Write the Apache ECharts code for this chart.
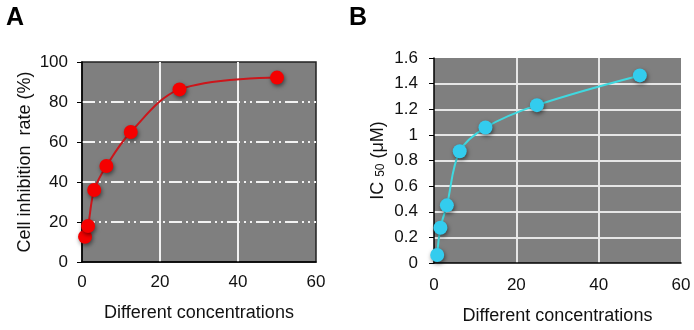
<!DOCTYPE html>
<html>
<head>
<meta charset="utf-8">
<script src="https://cdn.jsdelivr.net/npm/echarts@6/dist/echarts.min.js"></script>
<style>
  html, body { margin: 0; padding: 0; background: #fff; }
  #chart { width: 694px; height: 330px; }
</style>
</head>
<body>
<div id="chart"></div>
<script>
// concentrations shared by both panels
const concentrations = [0.78, 1.56, 3.125, 6.25, 12.5, 25, 50]
// panel A: inhibition rate (%)
const inhibitionRate = [12.6, 18, 36, 48, 65, 86.3, 92.2]
// panel B: IC50 (uM)
const ic50 = [0.062, 0.275, 0.45, 0.872, 1.057, 1.232, 1.464]

const font = 'Liberation Sans, Arial, sans-serif'

const pairs = (xs, ys) => xs.map((x, i) => [x, ys[i]])

const chart = echarts.init(document.getElementById('chart'))

const axisText = { color: '#111', fontSize: 17, fontFamily: font }
const titleText = { color: '#111', fontSize: 18, fontFamily: font }

chart.setOption({
  animation: false,
  textStyle: { fontFamily: font },
  graphic: [
    { type: 'text', left: 6, top: 6, style: { text: 'A', font: 'bold 25px ' + font, fill: '#000' } },
    { type: 'text', left: 349, top: 6, style: { text: 'B', font: 'bold 25px ' + font, fill: '#000' } }
  ],
  grid: [
    { left: 82, right: 378, top: 62, bottom: 68, show: true, backgroundColor: '#7f7f7f', borderColor: '#222', borderWidth: 1.5 },
    { left: 434, right: 13, top: 58, bottom: 64, show: true, backgroundColor: '#7f7f7f', borderColor: '#7f7f7f', borderWidth: 0 }
  ],
  xAxis: [
    {
      gridIndex: 0, type: 'value', min: 0, max: 60, interval: 20,
      name: 'Different concentrations', nameLocation: 'middle', nameGap: 42,
      nameTextStyle: titleText,
      axisLine: { show: true, lineStyle: { color: '#000', width: 1.5 } },
      axisTick: { show: false },
      axisLabel: { ...axisText, margin: 12 },
      splitLine: { show: true, showMinLine: false, showMaxLine: false, lineStyle: { color: '#f2f2f2', width: 2 } }
    },
    {
      gridIndex: 1, type: 'value', min: 0, max: 60, interval: 20,
      name: 'Different concentrations', nameLocation: 'middle', nameGap: 44,
      nameTextStyle: titleText,
      axisLine: { show: true, lineStyle: { color: '#000', width: 1.5 } },
      axisTick: { show: false },
      axisLabel: { ...axisText, margin: 14 },
      splitLine: { show: true, showMinLine: false, showMaxLine: false, lineStyle: { color: '#e6e6e6', width: 2 } }
    }
  ],
  yAxis: [
    {
      gridIndex: 0, type: 'value', min: 0, max: 100, interval: 20,
      name: 'Cell inhibition  rate (%)', nameLocation: 'middle', nameGap: 48,
      nameTextStyle: titleText,
      axisLine: { show: true, lineStyle: { color: '#000', width: 1.5 } },
      axisTick: { show: true, inside: false, length: 5, lineStyle: { color: '#000' } },
      axisLabel: { ...axisText, margin: 14 },
      splitLine: { show: true, showMinLine: false, showMaxLine: false, lineStyle: { color: '#f2f2f2', width: 2, type: [13, 4, 2, 4, 2, 4] } }
    },
    {
      gridIndex: 1, type: 'value', min: 0, max: 1.6, interval: 0.2,
      name: '{n|IC }{s|50}{n| (μM)}', nameLocation: 'middle', nameGap: 47,
      nameTextStyle: {
        ...titleText,
        rich: {
          n: { fontSize: 18, fontFamily: font, color: '#111' },
          s: { fontSize: 12, fontFamily: font, color: '#111', verticalAlign: 'bottom', padding: [6, 0, 0, 0] }
        }
      },
      axisLine: { show: true, lineStyle: { color: '#000', width: 1.5 } },
      axisTick: { show: true, inside: false, length: 5, lineStyle: { color: '#000' } },
      axisLabel: { ...axisText, margin: 16, formatter: v => String(+v.toFixed(1)) },
      splitLine: { show: true, showMinLine: false, showMaxLine: false, lineStyle: { color: '#e6e6e6', width: 2 } }
    }
  ],
  series: [
    {
      type: 'line', xAxisIndex: 0, yAxisIndex: 0,
      data: pairs(concentrations, inhibitionRate),
      smooth: 0.35,
      symbol: 'circle', symbolSize: 14,
      lineStyle: { color: '#cc161b', width: 2 },
      itemStyle: { color: '#f50000', shadowBlur: 4, shadowColor: 'rgba(0,0,0,0.5)', shadowOffsetX: 1, shadowOffsetY: 2 }
    },
    {
      type: 'line', xAxisIndex: 1, yAxisIndex: 1,
      data: pairs(concentrations, ic50),
      smooth: 0.35,
      symbol: 'circle', symbolSize: 14,
      lineStyle: { color: '#3fd9e0', width: 2 },
      itemStyle: { color: '#33ccee', shadowBlur: 4, shadowColor: 'rgba(0,0,0,0.5)', shadowOffsetX: 1, shadowOffsetY: 2 }
    }
  ]
})
</script>
</body>
</html>
